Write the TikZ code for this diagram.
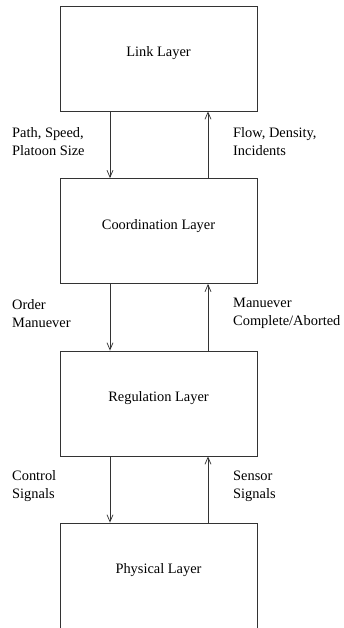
\documentclass[tikz,border=0pt]{standalone}
\usepackage{fontspec}
\setmainfont{Liberation Serif}
\usepackage{tikz}
\usetikzlibrary{arrows.meta}

\begin{document}
\begin{tikzpicture}[x=1pt, y=-1pt,
    every node/.style={font=\fontsize{14.4}{18}\selectfont},
    layer/.style={draw=black!80, line width=0.8pt, minimum width=197pt, minimum height=105pt, inner sep=0pt},
    flow/.style={-{Straight Barb[length=7pt, width=6pt, line width=0.7pt]}, line width=0.7pt, draw=black!80},
    note/.style={anchor=west, align=left, inner sep=0pt}]

\useasboundingbox (0,0) rectangle (343,628);

% Layers
\foreach \name/\y/\txt in {
    link/58.5/{Link Layer},
    coord/231/{Coordination Layer},
    reg/403.5/{Regulation Layer},
    phys/575.5/{Physical Layer}
} {
    \node[layer, label={[yshift=5pt]center:\txt}] (\name) at (158.5, \y) {};
}

% Arrows between layers
\coordinate (dn) at (110, 0);
\coordinate (up) at (208, 0);
\foreach \a/\b in {link/coord, coord/reg, reg/phys} {
    \draw[flow] (\a.south -| dn) -- (\b.north -| dn);
    \draw[flow] (\b.north -| up) -- (\a.south -| up);
}

% Commands going down
\node[note] (pathlbl) at (12, 141.5) {Path, Speed,\\Platoon Size};
\node[note] (orderlbl) at (12, 313.5) {Order\\Manuever};
\node[note] (ctrllbl) at (12, 486) {Control\\Signals};

% Feedback going up
\node[note] (flowlbl) at (233, 141.5) {Flow, Density,\\Incidents};
\node[note] (donelbl) at (233, 313.5) {Manuever\\Complete/Aborted};
\node[note] (senslbl) at (233, 486) {Sensor\\Signals};

\end{tikzpicture}
\end{document}
